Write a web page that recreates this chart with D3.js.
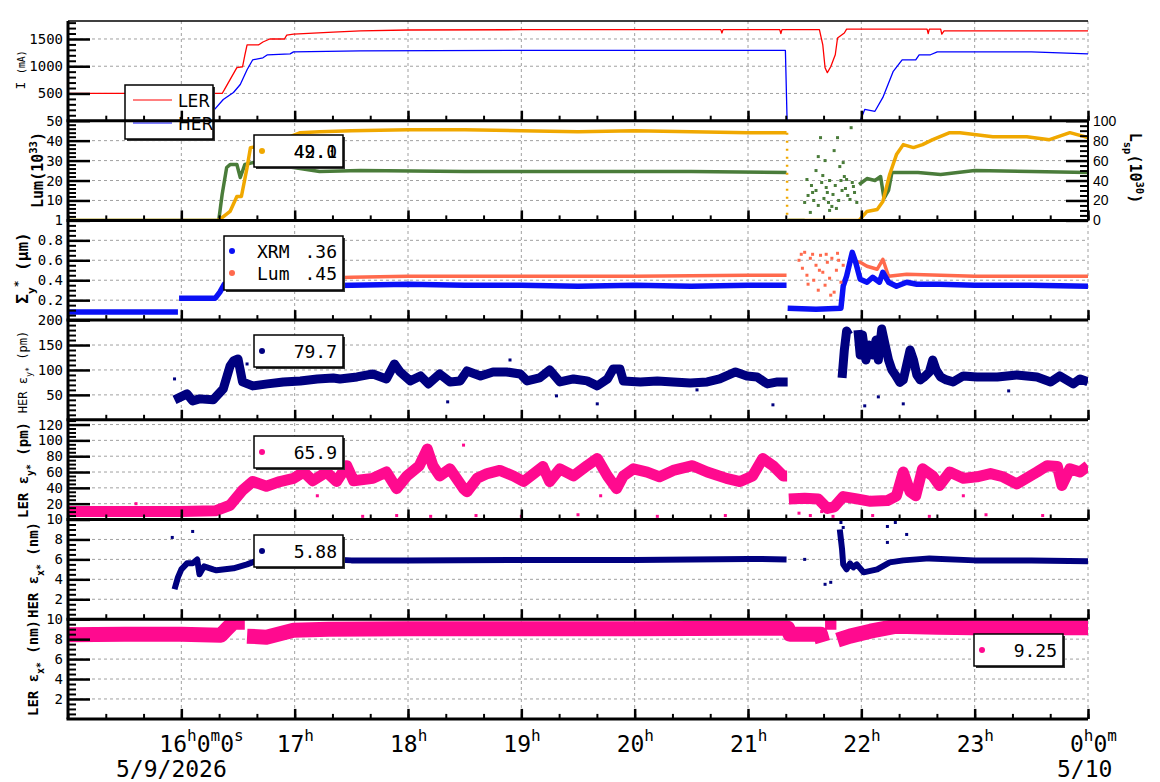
<!DOCTYPE html>
<meta charset="utf-8">
<svg width="1160" height="782"></svg>
<style>
  body { margin: 0; background: #fff; }
  svg { display: block; font-family: "DejaVu Sans Mono", monospace; }
  .grid line { stroke: #a0a0a0; stroke-width: 1; stroke-dasharray: 3,3; }
  .tick line { stroke: #000; }
  .tick text { fill: #000; }
</style>
<script src="https://d3js.org/d3.v7.min.js"></script>
<script>

// ---- data: [hour of 5/9, value] ----
var lerCurrent = [[15,500],[16.36,500],[16.38,570],[16.43,755],[16.49,973],[16.54,990],[16.56,1200],[16.58,1390],[16.68,1390],[16.72,1445],[16.78,1500],[16.91,1500],[16.93,1570],[16.99,1590],[17.34,1627],[17.58,1650],[18,1665],[19,1670],[20,1672],[20.76,1672],[20.77,1610],[20.78,1672],[21.28,1672],[21.29,1600],[21.3,1672],[21.63,1672],[21.66,1390],[21.68,973],[21.7,882],[21.73,990],[21.77,1210],[21.79,1518],[21.85,1610],[21.87,1680],[22.58,1680],[22.59,1600],[22.6,1680],[22.7,1680],[22.71,1590],[22.73,1650],[24,1650]];
var herCurrent = [[15,0],[16.19,0],[16.28,175],[16.37,390],[16.46,518],[16.52,664],[16.58,936],[16.63,1118],[16.72,1155],[16.76,1210],[16.96,1227],[16.99,1264],[17.58,1282],[19,1290],[21.33,1290],[21.345,0],[21.99,0],[22.03,207],[22.12,173],[22.19,427],[22.28,900],[22.36,1118],[22.48,1118],[22.51,1210],[22.61,1210],[22.67,1264],[23.5,1264],[24,1227]];

var lum = [[15,0],[16.32,0],[16.34,0.5],[16.43,4.5],[16.49,12],[16.53,12],[16.58,26.5],[16.61,36.5],[16.67,37],[16.76,39.5],[16.81,41.5],[16.96,42],[17.05,44],[17.22,44.5],[17.5,45],[18,45.5],[18.5,45.5],[19,45],[19.5,44.5],[20,45],[20.5,44.5],[21,44],[21.34,44],[21.345,NaN],[21.35,0],[21.98,0],[22.05,4.5],[22.14,5.5],[22.19,9.5],[22.25,23],[22.31,33],[22.37,38],[22.46,36.5],[22.54,38],[22.63,40.5],[22.78,44],[22.87,44],[23.16,42],[23.46,42],[23.66,40.5],[23.84,44],[24,41.5]];
var lumDrop = [[21.345,44],[21.345,0]];
var lsp = [[15,0],[16.33,0],[16.36,26],[16.4,53],[16.43,56],[16.49,56],[16.52,43],[16.56,56],[16.63,58],[16.76,56],[16.99,53],[17.22,49],[17.58,50],[18.5,49],[19.5,49],[20.5,49],[21.34,48],[21.345,NaN],[21.35,0],[21.5,0],[21.5,NaN],[21.98,36],[22.05,42],[22.12,40],[22.17,44],[22.2,22],[22.24,30],[22.27,48],[22.5,48],[22.7,46],[23,50],[23.5,49],[24,48]];
var lspScatter = [[21.64,83],[21.79,83],[21.62,64],[21.52,41],[21.5,18],[21.55,8],[21.57,28],[21.7,28],[21.74,14],[21.81,54],[21.87,41],[21.9,21],[21.93,34],[21.96,18],[21.91,93],[21.53,25],[21.56,35],[21.58,20],[21.6,30],[21.62,15],[21.65,38],[21.67,22],[21.69,33],[21.72,40],[21.75,26],[21.77,35],[21.8,20],[21.83,30],[21.85,44],[21.88,25],[21.92,38],[21.94,28],[21.6,50],[21.68,60],[21.76,70],[21.84,58],[21.72,10],[21.78,12],[21.66,45],[21.71,18],[21.82,40],[21.86,32]];

var xrmSigma = [[15,0.08],[15.5,0.08],[15.97,0.08],[15.975,NaN],[15.98,0.22],[16.3,0.22],[16.34,0.28],[16.38,0.36],[16.45,0.33],[16.6,0.33],[17,0.34],[17.5,0.35],[18,0.36],[18.5,0.35],[19,0.35],[19.5,0.34],[20,0.35],[20.5,0.34],[21,0.35],[21.34,0.35],[21.345,NaN],[21.35,0.12],[21.6,0.11],[21.82,0.12],[21.84,0.34],[21.87,0.44],[21.92,0.68],[21.95,0.58],[21.99,0.41],[22.05,0.38],[22.1,0.43],[22.16,0.38],[22.19,0.48],[22.24,0.38],[22.31,0.34],[22.4,0.38],[22.49,0.36],[22.69,0.36],[23,0.35],[23.5,0.35],[24,0.34]];
var lumSigma = [[16.39,0.69],[16.43,0.48],[16.46,0.39],[16.5,0.48],[16.55,0.38],[16.67,0.38],[17,0.41],[17.5,0.43],[18,0.44],[19,0.44],[20,0.44],[21,0.45],[21.34,0.45],[21.345,NaN],[21.9,0.6],[21.99,0.58],[22.05,0.54],[22.14,0.51],[22.19,0.61],[22.24,0.44],[22.4,0.46],[23,0.44],[24,0.44]];
var lumSigmaScatter = [[21.45,0.6],[21.48,0.52],[21.5,0.68],[21.52,0.45],[21.55,0.62],[21.58,0.4],[21.6,0.55],[21.62,0.3],[21.64,0.65],[21.66,0.48],[21.68,0.35],[21.7,0.58],[21.72,0.42],[21.74,0.62],[21.76,0.28],[21.78,0.5],[21.8,0.6],[21.82,0.38],[21.84,0.55],[21.47,0.66],[21.57,0.66],[21.69,0.66],[21.79,0.67],[21.53,0.36],[21.63,0.5],[21.73,0.25]];

var herEy = [[15.94,40],[16.05,52],[16.1,38],[16.16,42],[16.28,40],[16.37,62],[16.43,108],[16.46,118],[16.5,122],[16.54,76],[16.63,68],[16.76,72],[16.9,76],[17.05,78],[17.2,82],[17.34,84],[17.4,82],[17.55,86],[17.69,92],[17.81,82],[17.88,112],[17.93,96],[18.02,78],[18.11,88],[18.18,72],[18.28,92],[18.37,76],[18.46,78],[18.52,98],[18.64,88],[18.75,96],[18.87,96],[18.99,92],[19.05,78],[19.16,84],[19.25,100],[19.34,76],[19.46,82],[19.58,78],[19.67,68],[19.76,82],[19.81,102],[19.87,102],[19.9,78],[20.05,76],[20.2,78],[20.34,76],[20.49,74],[20.64,76],[20.75,82],[20.89,96],[20.99,88],[21.08,86],[21.17,72],[21.26,76],[21.35,76],[21.4,NaN],[21.83,84],[21.85,140],[21.87,178],[21.89,170],[21.93,NaN],[21.97,180],[21.99,130],[22.01,170],[22.04,120],[22.07,150],[22.1,130],[22.13,160],[22.15,120],[22.18,182],[22.21,150],[22.24,120],[22.27,100],[22.3,90],[22.34,75],[22.37,80],[22.4,110],[22.43,140],[22.46,120],[22.49,90],[22.52,80],[22.55,85],[22.6,96],[22.63,120],[22.66,100],[22.7,86],[22.75,80],[22.81,76],[22.9,88],[23.02,86],[23.2,86],[23.37,90],[23.55,86],[23.67,76],[23.75,88],[23.87,72],[23.93,82],[24,76]];
var herEyOut = [[15.94,82],[16.58,112],[18.35,36],[18.9,120],[19.31,48],[19.67,32],[21.22,30],[22.03,28],[22.15,46],[22.37,32],[20.55,60],[23.3,58]];

var lerEy = [[15,10],[15.5,10],[16,10],[16.3,11],[16.43,18],[16.54,37],[16.63,48],[16.75,42],[16.87,48],[16.99,52],[17.08,60],[17.16,49],[17.28,60],[17.37,48],[17.46,68],[17.52,49],[17.69,52],[17.81,60],[17.9,39],[17.99,55],[18.1,68],[18.17,89],[18.22,68],[18.28,55],[18.37,64],[18.49,39],[18.52,35],[18.61,52],[18.7,58],[18.81,62],[18.93,55],[19.02,48],[19.11,58],[19.19,67],[19.25,48],[19.34,64],[19.46,55],[19.58,68],[19.67,77],[19.76,55],[19.84,39],[19.9,55],[19.99,64],[20.11,60],[20.22,54],[20.34,62],[20.51,68],[20.64,60],[20.81,52],[20.93,48],[21.04,55],[21.13,77],[21.22,68],[21.31,55],[21.345,55],[21.35,NaN],[21.36,26],[21.5,27],[21.62,26],[21.7,14],[21.76,16],[21.84,29],[21.96,26],[22.08,23],[22.23,24],[22.31,30],[22.37,60],[22.43,35],[22.48,30],[22.54,64],[22.63,55],[22.69,43],[22.78,60],[22.9,52],[23.02,54],[23.14,58],[23.25,54],[23.37,45],[23.49,55],[23.55,60],[23.64,68],[23.73,67],[23.77,43],[23.84,64],[23.93,60],[24,68]];
var lerEyOut = [[15.6,20],[17.6,4],[17.9,5],[18.2,4],[18.49,94],[18.6,5],[19.0,4],[19.5,6],[20.2,4],[20.8,5],[21.45,8],[21.55,5],[21.65,10],[21.75,4],[22.1,5],[22.6,4],[23.1,6],[23.6,5],[17.2,30],[19.7,30],[22.9,30]];

var herEx = [[15.94,3.0],[15.97,4.2],[16.0,5.0],[16.05,5.6],[16.1,5.6],[16.14,6.0],[16.16,4.5],[16.2,5.3],[16.28,5.0],[16.31,4.9],[16.46,5.1],[16.58,5.5],[16.65,5.8],[17,5.9],[17.16,6.1],[17.5,5.9],[18,5.9],[19,5.95],[20,5.95],[21,6.05],[21.34,6.0],[21.345,NaN],[21.81,9.0],[21.83,7.0],[21.84,5.5],[21.87,5.0],[21.9,5.6],[21.93,5.2],[21.96,5.5],[22.02,4.7],[22.14,5.0],[22.25,5.7],[22.37,5.9],[22.6,6.1],[23,5.9],[23.5,5.9],[24,5.8]];
var herExOut = [[15.92,8.2],[16.1,8.8],[21.82,9.7],[21.84,9.2],[21.68,3.5],[21.73,3.7],[22.23,9.3],[22.3,9.7],[22.4,8.5],[22.23,7.7],[21.5,6.0]];

var lerEx = [[15,8.45],[15.5,8.5],[16,8.5],[16.35,8.4],[16.4,9.0],[16.46,9.7],[16.56,9.7],[16.565,NaN],[16.58,8.3],[16.75,8.2],[16.99,8.9],[17.3,9.0],[18,9.05],[19,9.05],[20,9.05],[21,9.1],[21.35,9.1],[21.37,8.5],[21.64,8.5],[21.66,7.7],[21.67,NaN],[21.68,9.7],[21.78,9.7],[21.785,NaN],[21.79,7.9],[21.9,8.3],[22.08,8.8],[22.31,9.3],[22.67,9.2],[23,9.15],[24,9.15]];

// tick labels
var iTicks = [500, 1000, 1500];
var lumTicks = [10, 20, 30, 40, 50];
var lspTicks = [0, 20, 40, 60, 80, 100];
var sigmaTicks = [0.2, 0.4, 0.6, 0.8, 1];
var herEyTicks = [50, 100, 150, 200];
var lerEyTicks = [20, 40, 60, 80, 100, 120];
var emitXTicks = [2, 4, 6, 8, 10];
var hourTicks = [16, 17, 18, 19, 20, 21, 22, 23, 24];

// legend readouts
var lumReadout = ["42.0", "49.1"];
var sigmaReadout = [".36", ".45"];
var emitReadout = ["79.7", "65.9", "5.88", "9.25"];

// ---- layout ----
var svg = d3.select("svg"),
    plotLeft = 68, plotRight = 1088, plotTop = 21, panelH = 99.7;

function hrs(h) { return new Date(2026, 4, 9, 0, 0, 0, Math.round(h * 3600000)); }

var x = d3.scaleTime().domain([hrs(15), hrs(24)]).range([plotLeft, plotRight]);

var red = "#ff0000", blue = "#0000ff", orange = "#f0a800", green = "#4a7c3a",
    xrmBlue = "#0a10f5", tomato = "#ff6a4d", navy = "#00007f", pink = "#ff0a8f";

var fmtSigma = function(v) { return v === 1 ? "1" : d3.format(".1f")(v); };

var panels = [
  {dom: [0, 1830], major: iTicks, minor: 100,
   lines: [{d: lerCurrent, c: red, w: 1.3}, {d: herCurrent, c: blue, w: 1.3}]},
  {dom: [0, 50], major: lumTicks, minor: 2, right: {dom: [0, 100], major: lspTicks, minor: 5},
   lines: [{d: lsp, c: green, w: 3.5, r: true}, {d: lum, c: orange, w: 3.5},
           {d: lumDrop, c: orange, w: 2.5, dash: "2,6"}],
   dots: [{d: lspScatter, c: green, r: true}]},
  {dom: [0, 1], major: sigmaTicks, minor: 0.05, fmt: fmtSigma,
   lines: [{d: lumSigma, c: tomato, w: 3.5}, {d: xrmSigma, c: xrmBlue, w: 5.5}],
   dots: [{d: lumSigmaScatter, c: tomato}]},
  {dom: [0, 200], major: herEyTicks, minor: 10,
   lines: [{d: herEy, c: navy, w: 9}], dots: [{d: herEyOut, c: navy}]},
  {dom: [0, 126], major: lerEyTicks, minor: 5,
   lines: [{d: lerEy, c: pink, w: 11}], dots: [{d: lerEyOut, c: pink}]},
  {dom: [0, 10], major: emitXTicks, minor: 0.5,
   lines: [{d: herEx, c: navy, w: 6}], dots: [{d: herExOut, c: navy}]},
  {dom: [0, 10], major: emitXTicks, minor: 0.5,
   lines: [{d: lerEx, c: pink, w: 15}]}
];

var defs = svg.append("defs");
var gGrid = svg.append("g").attr("class", "grid"),
    gData = svg.append("g"),
    gLegend = svg.append("g"),
    gAxis = svg.append("g");

function minorTicks(dom, step, majors) {
  return d3.range(0, Math.floor(dom[1] / step + 1e-6) + 1)
    .map(function(k) { return +(k * step).toFixed(4); })
    .filter(function(v) { return majors.indexOf(v) < 0 && v > 0; });
}

var plotBottom = plotTop + panels.length * panelH;

// vertical hour grid
gGrid.selectAll(".vg").data(hourTicks).enter().append("line")
    .attr("x1", function(h) { return x(hrs(h)); })
    .attr("x2", function(h) { return x(hrs(h)); })
    .attr("y1", plotTop).attr("y2", plotBottom);

panels.forEach(function(p, i) {
  var y0 = plotTop + i * panelH, y1 = y0 + panelH;
  var y = d3.scaleLinear().domain(p.dom).range([y1, y0]);
  var yR = p.right ? d3.scaleLinear().domain(p.right.dom).range([y1, y0]) : null;

  defs.append("clipPath").attr("id", "clip" + i).append("rect")
      .attr("x", plotLeft).attr("y", y0).attr("width", plotRight - plotLeft).attr("height", panelH);

  // horizontal grid
  gGrid.selectAll(".hg" + i).data(p.major.filter(function(v) { return v < p.dom[1]; }))
    .enter().append("line")
      .attr("x1", plotLeft).attr("x2", plotRight)
      .attr("y1", function(v) { return y(v); })
      .attr("y2", function(v) { return y(v); });

  var g = gData.append("g").attr("clip-path", "url(#clip" + i + ")");

  (p.lines || []).forEach(function(s) {
    var ys = s.r ? yR : y;
    var line = d3.line()
        .defined(function(d) { return !isNaN(d[1]); })
        .x(function(d) { return x(hrs(d[0])); })
        .y(function(d) { return ys(d[1]); });
    g.append("path")
        .datum(s.d)
        .attr("fill", "none")
        .attr("stroke", s.c)
        .attr("stroke-width", s.w)
        .attr("stroke-linejoin", "round")
        .attr("stroke-dasharray", s.dash || null)
        .attr("d", line);
  });

  (p.dots || []).forEach(function(s) {
    var ys = s.r ? yR : y;
    g.selectAll(null).data(s.d).enter().append("rect")
        .attr("x", function(d) { return x(hrs(d[0])) - 1.5; })
        .attr("y", function(d) { return ys(d[1]) - 1.5; })
        .attr("width", 3).attr("height", 3)
        .attr("fill", s.c);
  });

  // left axis
  var ax = gAxis.append("g")
      .attr("transform", "translate(" + plotLeft + ",0)")
      .style("font-size", "14px")
      .call(d3.axisLeft(y).tickValues(p.major).tickSizeInner(-22).tickSizeOuter(0)
        .tickPadding(5).tickFormat(p.fmt || d3.format("d")));
  ax.select(".domain").remove();
  ax.selectAll(".tick line").attr("stroke-width", 2.5);
  ax.selectAll(".tick text").attr("font-family", "DejaVu Sans Mono");

  var axm = gAxis.append("g")
      .attr("transform", "translate(" + plotLeft + ",0)")
      .call(d3.axisLeft(y).tickValues(minorTicks(p.dom, p.minor, p.major)).tickSize(-8).tickFormat(""));
  axm.select(".domain").remove();
  axm.selectAll(".tick line").attr("stroke-width", 2);

  if (p.right) {
    var ar = gAxis.append("g")
        .attr("transform", "translate(" + plotRight + ",0)")
        .style("font-size", "14px")
        .call(d3.axisRight(yR).tickValues(p.right.major).tickSizeInner(-22).tickSizeOuter(0)
          .tickPadding(5).tickFormat(d3.format("d")));
    ar.select(".domain").remove();
    ar.selectAll(".tick line").attr("stroke-width", 2.5);
    var arm = gAxis.append("g")
        .attr("transform", "translate(" + plotRight + ",0)")
        .call(d3.axisRight(yR).tickValues(minorTicks(p.right.dom, p.right.minor, p.right.major)).tickSize(-8).tickFormat(""));
    arm.select(".domain").remove();
    arm.selectAll(".tick line").attr("stroke-width", 2);
    gAxis.append("line").attr("x1", plotRight).attr("x2", plotRight).attr("y1", y0).attr("y2", y1)
        .attr("stroke", "#000").attr("stroke-width", 2);
  }

  // bottom ticks (pointing up)
  var bx = gAxis.append("g")
      .attr("transform", "translate(0," + y1 + ")")
      .call(d3.axisBottom(x).tickValues(hourTicks.map(hrs)).tickSize(-10).tickFormat(""));
  bx.select(".domain").remove();
  bx.selectAll(".tick line").attr("stroke-width", 2.5);
  var bxm = gAxis.append("g")
      .attr("transform", "translate(0," + y1 + ")")
      .call(d3.axisBottom(x).ticks(d3.timeMinute.every(20)).tickSize(-5).tickFormat(""));
  bxm.select(".domain").remove();
  bxm.selectAll(".tick line").attr("stroke-width", 2);

  gAxis.append("line").attr("x1", plotLeft - 1.5).attr("x2", plotRight).attr("y1", y1).attr("y2", y1)
      .attr("stroke", "#000").attr("stroke-width", 3);
});

// top frame and left spine
gAxis.append("line").attr("x1", plotLeft).attr("x2", plotRight).attr("y1", plotTop).attr("y2", plotTop)
    .attr("stroke", "#000").attr("stroke-width", 1.5);
gAxis.append("line").attr("x1", plotLeft).attr("x2", plotLeft).attr("y1", plotTop).attr("y2", plotBottom)
    .attr("stroke", "#000").attr("stroke-width", 3);

// ---- axis titles ----
function vtitle(xp, yp, rot, size, weight, parts) {
  var t = gAxis.append("text")
      .attr("transform", "translate(" + xp + "," + yp + ") rotate(" + rot + ")")
      .attr("text-anchor", "middle")
      .style("font-family", "DejaVu Sans Mono")
      .style("font-size", size + "px")
      .style("font-weight", weight);
  parts.forEach(function(s) {
    var ts = t.append("tspan").text(s[0]);
    if (s[1] === "sup") ts.attr("baseline-shift", "super").style("font-size", (size * 0.7) + "px");
    if (s[1] === "sub") ts.attr("baseline-shift", "sub").style("font-size", (size * 0.7) + "px");
    if (s[1] === "small") ts.style("font-size", (size * 0.75) + "px");
  });
}
vtitle(25, 70, -90, 13, "normal", [["I "], ["(mA)", "small"]]);
vtitle(43, 170, -90, 15, "bold", [["Lum(10"], ["33", "sup"], [")"]]);
vtitle(28, 268, -90, 16, "bold", [["\u03a3"], ["y", "sub"], ["*", "sup"], [" (\u03bcm)"]]);
vtitle(27, 372, -90, 12, "normal", [["HER \u03b5"], ["y*", "sub"], [" (pm)"]]);
vtitle(28, 470, -90, 14, "bold", [["LER \u03b5"], ["y*", "sub"], [" (pm)"]]);
vtitle(38, 570, -90, 14, "bold", [["HER \u03b5"], ["x*", "sub"], [" (nm)"]]);
vtitle(38, 668, -90, 14, "bold", [["LER \u03b5"], ["x*", "sub"], [" (nm)"]]);
vtitle(1130, 168, 90, 15, "bold", [["L"], ["sp", "sub"], ["(10"], ["30", "sup"], [")"]]);

// ---- time labels ----
function hourLabel(h) {
  var hh = h % 24;
  if (h === 16) return [[hh, ""], ["h", "sup"], ["0", ""], ["m", "sup"], ["0", ""], ["s", "sup"]];
  if (h === 24) return [[hh, ""], ["h", "sup"], ["0", ""], ["m", "sup"]];
  return [[hh, ""], ["h", "sup"]];
}
hourTicks.forEach(function(h) {
  var t = gAxis.append("text")
      .attr("x", x(hrs(h)) - (h === 16 ? 22 : 18)).attr("y", 752)
      .style("font-family", "DejaVu Sans Mono").style("font-size", "23px");
  hourLabel(h).forEach(function(s, k) {
    var ts = t.append("tspan").text(s[0]);
    if (s[1] === "sup") ts.attr("dy", -11).style("font-size", "16px");
    else if (k > 0) ts.attr("dy", 11);
  });
});
gAxis.append("text").attr("x", 116).attr("y", 777)
    .style("font-family", "DejaVu Sans Mono").style("font-size", "23px").text("5/9/2026");
gAxis.append("text").attr("x", 1057).attr("y", 777)
    .style("font-family", "DejaVu Sans Mono").style("font-size", "23px").text("5/10");

// ---- legends ----
function box(bx, by, bw, bh) {
  gLegend.append("rect").attr("x", bx + 2).attr("y", by + 2).attr("width", bw).attr("height", bh)
      .attr("fill", "#333");
  gLegend.append("rect").attr("x", bx).attr("y", by).attr("width", bw).attr("height", bh)
      .attr("fill", "#fff").attr("stroke", "#000").attr("stroke-width", 1.5);
}
function dot(cx, cy, c) {
  gLegend.append("circle").attr("cx", cx).attr("cy", cy).attr("r", 3).attr("fill", c);
}
function num(xr, yb, s) {
  gLegend.append("text").attr("x", xr).attr("y", yb).attr("text-anchor", "end")
      .style("font-family", "DejaVu Sans Mono").style("font-size", "18px").text(s);
}

box(125, 85, 88, 54);
gLegend.append("line").attr("x1", 133).attr("x2", 172).attr("y1", 100).attr("y2", 100).attr("stroke", red);
gLegend.append("line").attr("x1", 133).attr("x2", 172).attr("y1", 123).attr("y2", 123).attr("stroke", blue);
gLegend.append("text").attr("x", 178).attr("y", 107).style("font-family", "DejaVu Sans").style("font-size", "17px").text("LER");
gLegend.append("text").attr("x", 178).attr("y", 130).style("font-family", "DejaVu Sans").style("font-size", "17px").text("HER");

box(254, 135, 89, 32);
dot(262, 151, orange);
lumReadout.forEach(function(s) { num(337, 158, s); });

box(224, 236, 119, 54);
dot(232, 251, xrmBlue);
dot(232, 273, tomato);
gLegend.append("text").attr("x", 257).attr("y", 258).style("font-size", "18px").text("XRM");
gLegend.append("text").attr("x", 257).attr("y", 280).style("font-size", "18px").text("Lum");
num(337, 258, sigmaReadout[0]);
num(337, 280, sigmaReadout[1]);

var emitBoxes = [[254, 335, navy], [254, 436, pink], [254, 535, navy], [974, 634, pink]];
emitBoxes.forEach(function(b, k) {
  box(b[0], b[1], 89, 32);
  dot(b[0] + 8, b[1] + 16, b[2]);
  num(b[0] + 83, b[1] + 23, emitReadout[k]);
});

</script>
